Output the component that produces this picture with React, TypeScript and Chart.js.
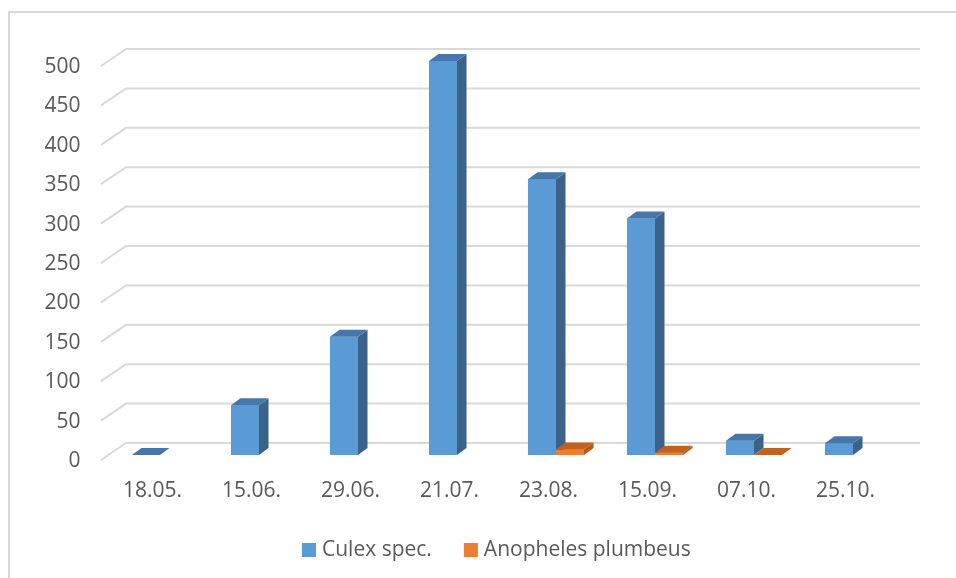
import React, { useEffect, useRef } from "react";
import { Chart, registerables } from "chart.js";

Chart.register(...registerables);

const categories = ["18.05.", "15.06.", "29.06.", "21.07.", "23.08.", "15.09.", "07.10.", "25.10."];
const culexValues: (number | null)[] = [0, 63, 150, 500, 350, 300, 18, 15];
const anophelesValues: (number | null)[] = [null, null, null, null, 7, 3, 0, null];
const seriesNames = ["Culex spec.", "Anopheles plumbeus"];
const yMin = 0;
const yMax = 500;
const yStep = 50;

const FONT = "'Open Sans', 'DejaVu Sans', sans-serif";
const TEXT = "#595959";
const palette = [
  { front: "#5B9BD5", top: "#4677AA", side: "#3B6389" },
  { front: "#ED7D31", top: "#C4611F", side: "#B3591C" },
];
const DX = 9.5;
const DY = -7;

const threeD = {
  id: "threeD",
  beforeDatasetsDraw(chart: any) {
    const { ctx, chartArea, scales } = chart;
    const y = scales.y;
    ctx.save();
    ctx.strokeStyle = "#d9d9d9";
    ctx.lineWidth = 2;
    y.ticks.forEach((t: any) => {
      const py = y.getPixelForValue(t.value);
      ctx.beginPath();
      ctx.moveTo(chartArea.left - 9.5, py + 5);
      ctx.lineTo(chartArea.left + 15.5, py - 12);
      ctx.lineTo(chartArea.right + 17.5, py - 12);
      ctx.stroke();
    });
    ctx.restore();
  },
  afterDatasetsDraw(chart: any) {
    const { ctx } = chart;
    const n = chart.data.labels.length;
    ctx.save();
    for (let i = 0; i < n; i++) {
      chart.data.datasets.forEach((ds: any, d: number) => {
        const v = ds.data[i];
        if (v === null || v === undefined) return;
        const el = chart.getDatasetMeta(d).data[i];
        const { x, y, base, width } = el.getProps(["x", "y", "base", "width"], true);
        const l = x - width / 2;
        const r = x + width / 2;
        const c = palette[d];
        // front
        if (base - y > 0) {
          ctx.fillStyle = c.front;
          ctx.fillRect(l, y, width, base - y);
        }
        // side
        ctx.fillStyle = c.side;
        ctx.beginPath();
        ctx.moveTo(r, y);
        ctx.lineTo(r + DX, y + DY);
        ctx.lineTo(r + DX, base + DY);
        ctx.lineTo(r, base);
        ctx.closePath();
        ctx.fill();
        // top
        ctx.fillStyle = c.top;
        ctx.beginPath();
        ctx.moveTo(l, y);
        ctx.lineTo(l + DX, y + DY);
        ctx.lineTo(r + DX, y + DY);
        ctx.lineTo(r, y);
        ctx.closePath();
        ctx.fill();
      });
    }
    ctx.restore();
  },
  afterDraw(chart: any) {
    const { ctx } = chart;
    ctx.save();
    ctx.font = `21px ${FONT}`;
    ctx.textBaseline = "middle";
    ctx.textAlign = "left";
    const box = 14;
    const cy = 550;
    let x = 302;
    seriesNames.forEach((name, i) => {
      ctx.fillStyle = palette[i].front;
      ctx.fillRect(x, cy - box / 2, box, box);
      ctx.fillStyle = TEXT;
      ctx.fillText(name, x + box + 6, cy);
      x += box + 6 + ctx.measureText(name).width + 32;
    });
    ctx.restore();
  },
};

export default function App() {
  const ref = useRef<HTMLCanvasElement | null>(null);
  useEffect(() => {
    if (!ref.current) return;
    const chart = new Chart(ref.current, {
      type: "bar",
      data: {
        labels: categories,
        datasets: [
          { label: seriesNames[0], data: culexValues, backgroundColor: palette[0].front, borderWidth: 0 },
          { label: seriesNames[1], data: anophelesValues, backgroundColor: palette[1].front, borderWidth: 0 },
        ],
      },
      options: {
        animation: false,
        responsive: false,
        devicePixelRatio: 1,
        events: [],
        layout: { padding: { left: 0, top: 61, right: 53.5, bottom: 0 } },
        datasets: { bar: { categoryPercentage: 0.566, barPercentage: 1 } },
        plugins: { legend: { display: false }, tooltip: { enabled: false } },
        scales: {
          x: {
            grid: { display: false, drawTicks: false },
            border: { display: false },
            ticks: { font: { family: FONT, size: 21 }, color: TEXT, padding: 23, labelOffset: -7.5, maxRotation: 0, autoSkip: false },
            afterFit: (s: any) => { s.height = 123; },
          },
          y: {
            min: yMin,
            max: yMax,
            grid: { display: false, drawTicks: false },
            border: { display: false },
            ticks: { stepSize: yStep, font: { family: FONT, size: 21 }, color: TEXT, padding: 30, labelOffset: 6 },
            afterFit: (s: any) => { s.width = 110.5; },
          },
        },
      },
      plugins: [threeD],
    } as any);
    return () => chart.destroy();
  }, []);
  return (
    <div style={{ position: "fixed", left: 0, top: 0, width: 956, height: 578, overflow: "hidden", background: "#fff" }}>
      <div style={{ position: "absolute", left: 8, top: 11, width: 1200, height: 1000, borderLeft: "2px solid #d9d9d9", borderTop: "2px solid #d9d9d9" }} />
      <canvas ref={ref} width={956} height={578} style={{ position: "absolute", left: 0, top: 0, width: 956, height: 578 }} />
    </div>
  );
}
